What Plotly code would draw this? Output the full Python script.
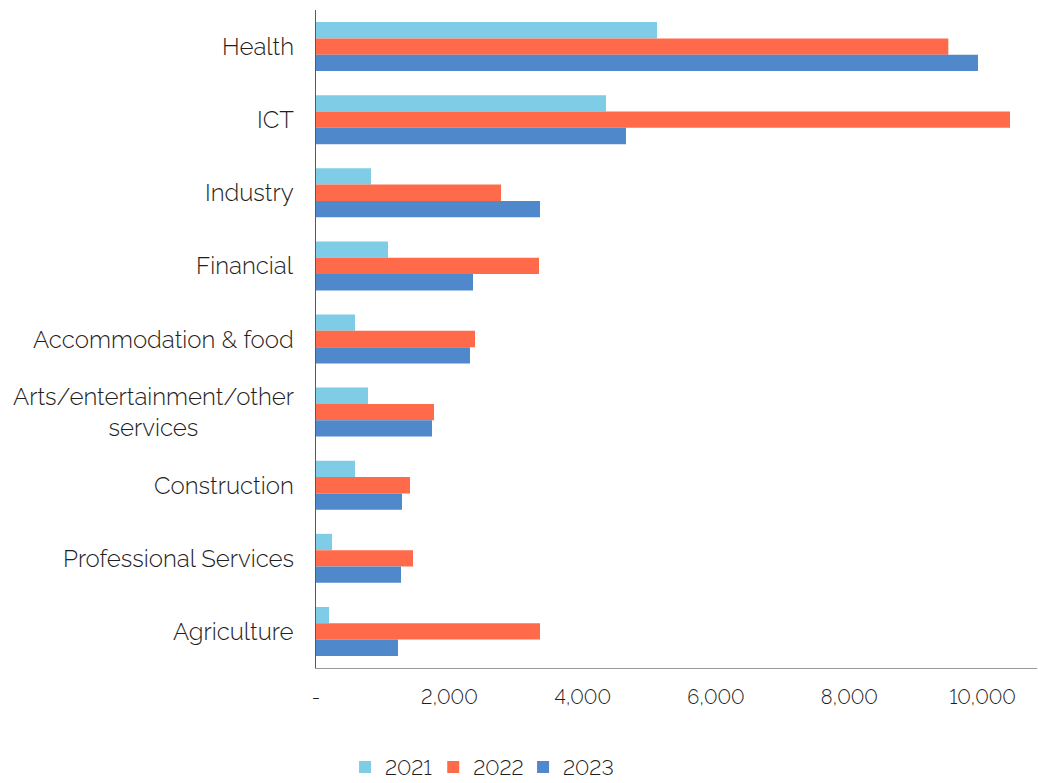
import plotly.graph_objects as go

categories = ["Health", "ICT", "Industry", "Financial", "Accommodation & food",
              "Arts/entertainment/other<br>services", "Construction",
              "Professional Services", "Agriculture"]
years = ["2021", "2022", "2023"]
v2021 = [5115, 4350, 825, 1080, 585, 780, 585, 240, 195]
v2022 = [9485, 10410, 2775, 3345, 2385, 1770, 1410, 1455, 3360]
v2023 = [9930, 4650, 3360, 2355, 2310, 1740, 1290, 1275, 1230]
tick_vals = [0, 2000, 4000, 6000, 8000, 10000]
tick_text = ["-", "2,000", "4,000", "6,000", "8,000", "10,000"]

colors = ["#7FCCE6", "#FF6A4A", "#4F89CB"]
series = [v2021, v2022, v2023]

FONT = "Raleway, Lato, sans-serif"
TXT = "#1e1e1e"
W = 300

fig = go.Figure()
for name, vals, c in zip(years, series, colors):
    fig.add_trace(go.Bar(y=categories, x=vals, name=name, orientation="h",
                         marker=dict(color=c, line=dict(width=0))))

for cat in categories:
    fig.add_annotation(x=-0.028, xref="paper", y=cat, yref="y", text=cat,
                       showarrow=False, xanchor="right", yanchor="middle",
                       align="center",
                       font=dict(family=FONT, size=24, color=TXT, weight=W))

fig.update_layout(
    width=1038, height=783,
    margin=dict(l=316, r=1, t=10, b=115),
    plot_bgcolor="white", paper_bgcolor="white",
    barmode="group", bargap=0.33, bargroupgap=0,
    font=dict(family=FONT, color=TXT, weight=W),
    legend=dict(orientation="h", xref="container", yref="container",
                x=0.462, xanchor="center", y=0.02, yanchor="middle",
                font=dict(size=21, family=FONT, color=TXT, weight=W),
                itemwidth=30, traceorder="normal"),
    xaxis=dict(range=[0, 10815], tickvals=tick_vals, ticktext=tick_text,
               showgrid=False, zeroline=False, showline=True,
               linecolor="#999999", linewidth=1,
               ticks="", ticklabelstandoff=11,
               tickfont=dict(size=20, family=FONT, color=TXT, weight=W)),
    yaxis=dict(autorange="reversed", showticklabels=False, showgrid=False,
               showline=True, linecolor="#595959", linewidth=1, ticks=""),
)

css_js = """
var s = document.createElement('style');
s.textContent = 'html, body { margin: 0; padding: 0; overflow: hidden; } ' +
  'text { font-feature-settings: "lnum" 1; font-variant-numeric: lining-nums; }';
document.head.appendChild(s);
"""
fig.write_html("out.html", post_script=css_js, config={"displayModeBar": False})
